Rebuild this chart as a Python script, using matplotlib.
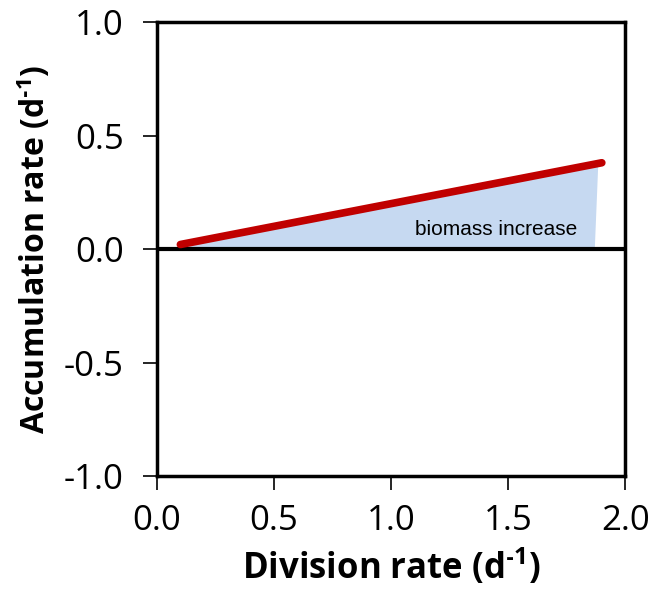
import matplotlib
matplotlib.use("Agg")
import matplotlib.pyplot as plt
from matplotlib.patches import Polygon

# Accumulation rate as a function of division rate
division_rate = [0.1, 1.9]
accumulation_rate = [0.02, 0.38]

# Shaded "biomass increase" region (x, y vertices)
fill_x = [0.1, 0.1, 1.885, 1.87]
fill_y = [0.0, 0.02, 0.377, 0.0]

x_ticks = [0.0, 0.5, 1.0, 1.5, 2.0]
y_ticks = [-1.0, -0.5, 0.0, 0.5, 1.0]

plt.rcParams["font.family"] = ["Open Sans", "DejaVu Sans"]
plt.rcParams["mathtext.fontset"] = "custom"
plt.rcParams["mathtext.rm"] = "Open Sans"
plt.rcParams["mathtext.bf"] = "Open Sans:bold"

fig = plt.figure(figsize=(6.54, 5.93), dpi=100)
ax = fig.add_axes([0.240, 0.197, 0.716, 0.766])

ax.add_patch(Polygon(list(zip(fill_x, fill_y)), closed=True,
                     facecolor="#C6D9F1", edgecolor="none", zorder=1))
ax.axhline(0, color="black", lw=3, zorder=2)
ax.plot(division_rate, accumulation_rate, color="#C00000", lw=5.5,
        solid_capstyle="round", zorder=3)

ax.text(1.45, 0.085, "biomass increase", fontsize=15,
        family=["Liberation Sans", "DejaVu Sans"], ha="center", va="center", zorder=4)

ax.set_xlim(0, 2.0)
ax.set_ylim(-1.0, 1.0)
ax.set_xticks(x_ticks)
ax.set_yticks(y_ticks)
ax.set_xticklabels([f"{v:.1f}" for v in x_ticks])
ax.set_yticklabels([f"{v:.1f}" for v in y_ticks])

for s in ax.spines.values():
    s.set_linewidth(2.5)
ax.tick_params(direction="out", length=10, width=1.2, labelsize=25)
ax.tick_params(axis="y", pad=14)
ax.tick_params(axis="x", pad=10)

ax.set_xlabel("Division rate (d$^{\\mathbf{\u2010 1}}$)", fontsize=25, fontweight="bold")
ax.set_ylabel("Accumulation rate (d$^{\\mathbf{\u2010 1}}$)", fontsize=23, fontweight="bold")
ax.xaxis.set_label_coords(0.5, -0.155)
ax.yaxis.set_label_coords(-0.222, 0.5)

fig.savefig("out.png", dpi=100)
